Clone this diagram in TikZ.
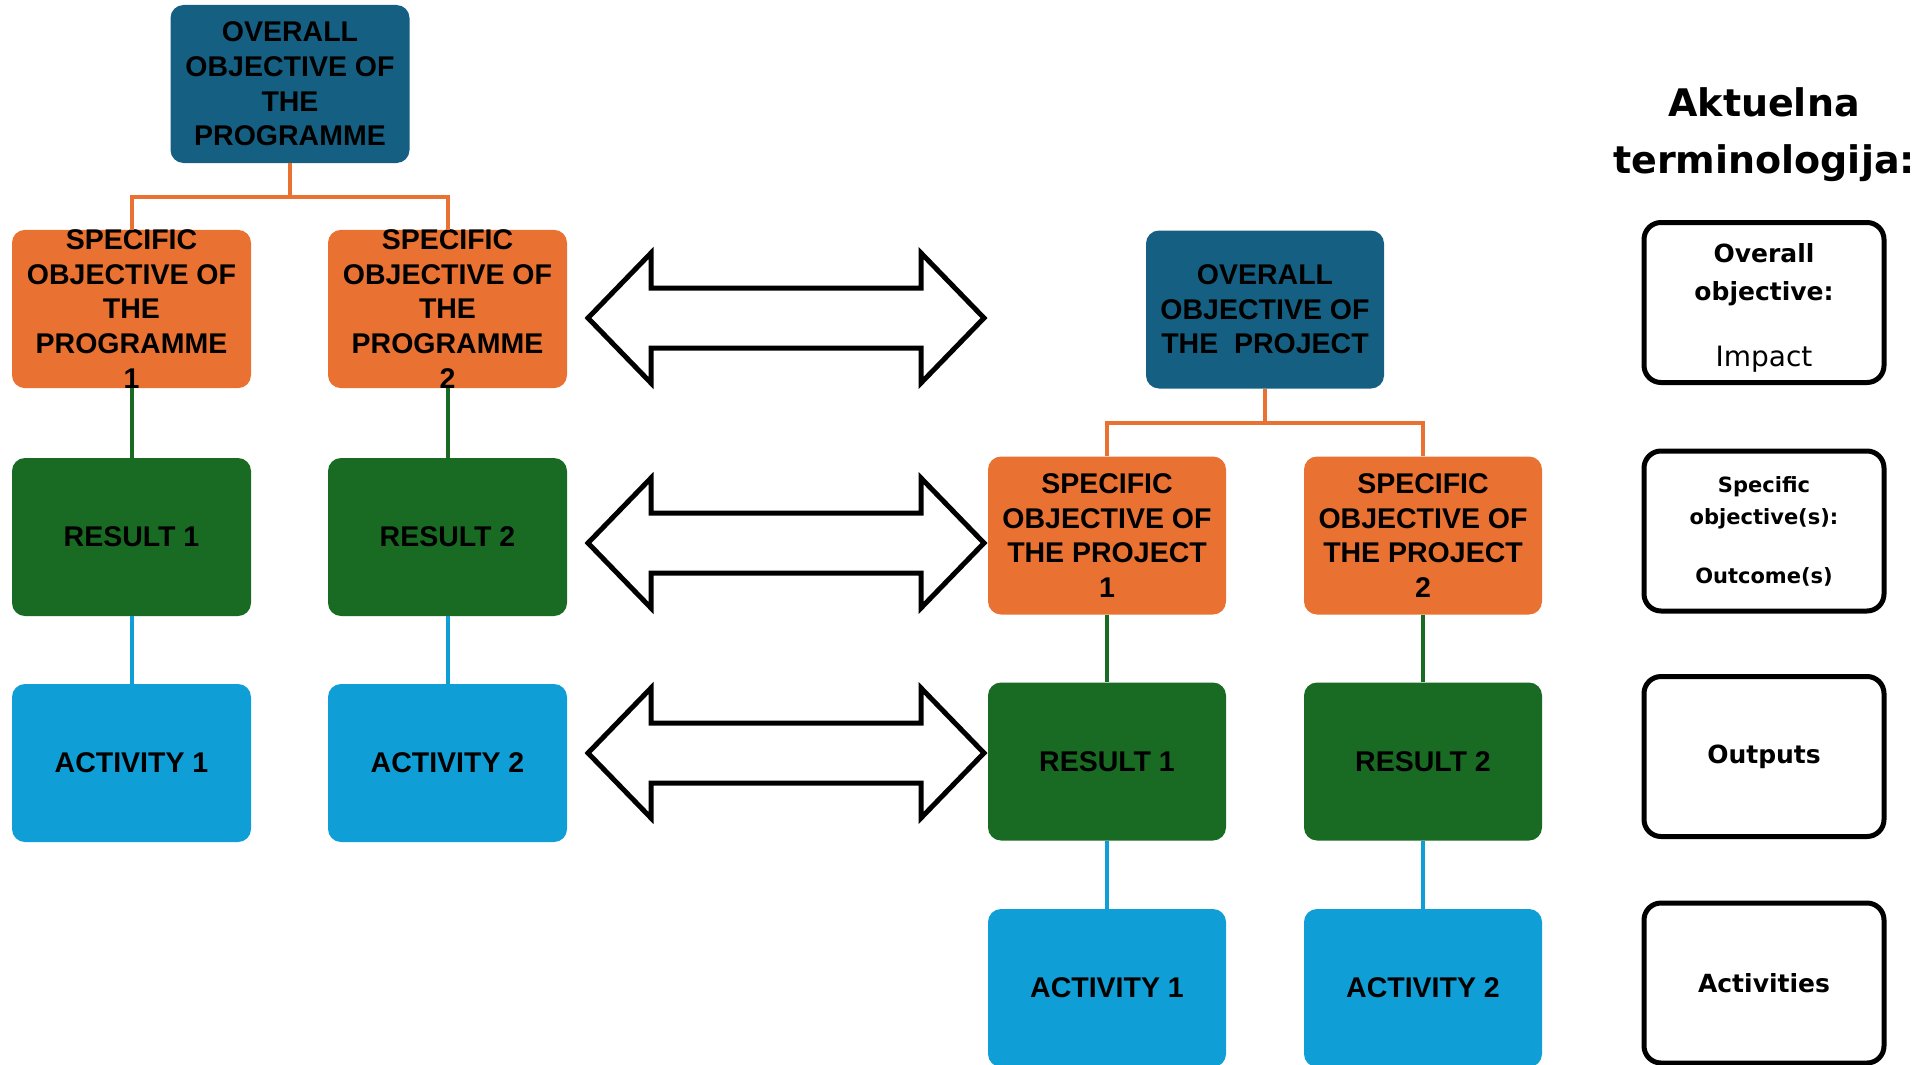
\documentclass[tikz,border=0pt]{standalone}
\usepackage{fontspec}
\setmainfont{Liberation Sans}
\newfontfamily\legendfont{DejaVu Sans}
\definecolor{objblue}{HTML}{156082}
\definecolor{objorange}{HTML}{E97132}
\definecolor{resgreen}{HTML}{196B24}
\definecolor{actblue}{HTML}{0F9ED5}
\begin{document}
\begin{tikzpicture}[x=1pt,y=-1pt,
  box/.style={rounded corners=13pt, minimum width=239pt, minimum height=158pt,
    inner sep=0pt, align=center, text=black,
    font=\bfseries\fontsize{28.5}{34.6}\selectfont},
  overall/.style={box, fill=objblue},
  specific/.style={box, fill=objorange},
  result/.style={box, fill=resgreen},
  activity/.style={box, fill=actblue},
  link/.style={line width=4pt},
  oline/.style={link, draw=objorange},
  gline/.style={link, draw=resgreen},
  bline/.style={link, draw=actblue},
  bigarrow/.style={draw=black, fill=white, line width=5pt, line join=miter},
  legend/.style={draw=black, fill=white, line width=5pt, rounded corners=17pt,
    minimum width=240pt, minimum height=160pt, inner sep=0pt, align=center,
    text=black},
  legendbig/.style={font=\legendfont\bfseries\fontsize{25}{38}\selectfont},
  legendsmall/.style={font=\legendfont\bfseries\fontsize{21}{32}\selectfont}
]
\useasboundingbox (0,0) rectangle (1932,1065);
\clip (0,0) rectangle (1932,1065);

% programme tree
\node[overall]  (ltop)  at (290,84)    {OVERALL\\OBJECTIVE OF\\THE\\PROGRAMME};
\node[specific] (lso1)  at (131.5,309) {SPECIFIC\\OBJECTIVE OF\\THE\\PROGRAMME\\1};
\node[specific] (lso2)  at (447.5,309) {SPECIFIC\\OBJECTIVE OF\\THE\\PROGRAMME\\2};
\node[result]   (lres1) at (131.5,537) {RESULT 1};
\node[result]   (lres2) at (447.5,537) {RESULT 2};
\node[activity] (lact1) at (131.5,763) {ACTIVITY 1};
\node[activity] (lact2) at (447.5,763) {ACTIVITY 2};

\coordinate (lj) at (290,197);
\draw[oline] (ltop.south) -- (lj);
\draw[oline] (lso1.north) |- (lj) -| (lso2.north);
\draw[gline] (lso1) -- (lres1);
\draw[gline] (lso2) -- (lres2);
\draw[bline] (lres1) -- (lact1);
\draw[bline] (lres2) -- (lact2);

% project tree
\node[overall, minimum width=238pt]  (rtop)  at (1265,309.5) {OVERALL\\OBJECTIVE OF\\THE\ \ PROJECT};
\node[specific, minimum width=238pt] (rso1)  at (1107,535.5) {SPECIFIC\\OBJECTIVE OF\\THE PROJECT\\1};
\node[specific, minimum width=238pt] (rso2)  at (1423,535.5) {SPECIFIC\\OBJECTIVE OF\\THE PROJECT\\2};
\node[result, minimum width=238pt]   (rres1) at (1107,761.5) {RESULT 1};
\node[result, minimum width=238pt]   (rres2) at (1423,761.5) {RESULT 2};
\node[activity, minimum width=238pt] (ract1) at (1107,988)   {ACTIVITY 1};
\node[activity, minimum width=238pt] (ract2) at (1423,988)   {ACTIVITY 2};

\coordinate (rj) at (1265,423);
\draw[oline] (rtop.south) -- (rj);
\draw[oline] (rso1.north) |- (rj) -| (rso2.north);
\draw[gline] (rso1) -- (rres1);
\draw[gline] (rso2) -- (rres2);
\draw[bline] (rres1) -- (ract1);
\draw[bline] (rres2) -- (ract2);

% two-headed correspondence arrows
\foreach \yc in {318,543,753} {
  \draw[bigarrow] (588,\yc) -- (651,\yc-65) -- (651,\yc-30) -- (921,\yc-30)
    -- (921,\yc-65) -- (984,\yc) -- (921,\yc+65) -- (921,\yc+30)
    -- (651,\yc+30) -- (651,\yc+65) -- cycle;
}

% terminology column
\node[anchor=north, align=center, text=black,
      font=\legendfont\bfseries\fontsize{38}{57}\selectfont]
  (title) at (1764,84) {Aktuelna\\terminologija:};
\node[legend, legendbig] (impact) at (1764,302.5)
  {\rule{0pt}{30pt}Overall\\objective:\\[28pt]\mdseries\fontsize{28}{38}\selectfont Impact};
\node[legend, legendsmall] (outcome) at (1764,531)
  {Specific\\objective(s):\\[27pt]Outcome(s)};
\node[legend, legendbig] (outputs) at (1764,756.5) {Outputs};
\node[legend, legendbig] (activities) at (1764,983) {Activities};
\end{tikzpicture}
\end{document}
